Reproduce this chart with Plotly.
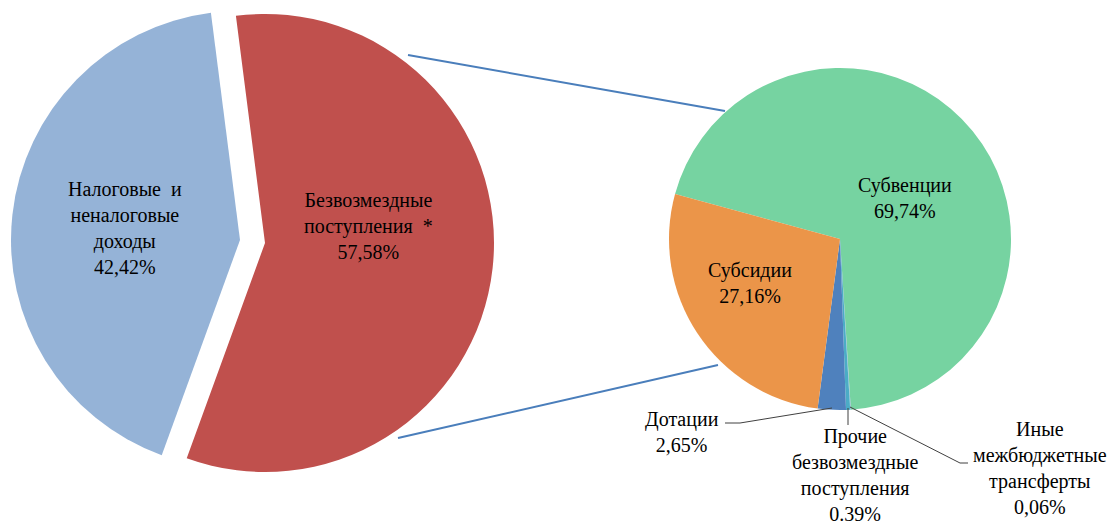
import plotly.graph_objects as go

W, H = 1120, 524

# ---- data ----
main_labels = ["Безвозмездные\nпоступления  *", "Налоговые  и\nненалоговые\nдоходы"]
main_values = [57.58, 42.42]
main_colors = ["#c0504d", "#95b3d7"]

sub_labels = ["Субвенции", "Иные\nмежбюджетные\nтрансферты", "Прочие\nбезвозмездные\nпоступления",
              "Дотации", "Субсидии"]
sub_values = [69.74, 0.06, 0.39, 2.65, 27.16]
sub_colors = ["#76d3a1", "#8fb8d0", "#4bacc6", "#4f81bd", "#eb9549"]
sub_decimal_sep = [",", ",", ".", ",", ","]

FONT = "Liberation Serif"
TRANSPARENT = "rgba(0,0,0,0)"


def px_dom(cx, cy, r):
    return dict(x=[(cx - r) / W, (cx + r) / W], y=[1 - (cy + r) / H, 1 - (cy - r) / H])


def fmt(v, sep=","):
    return f"{v:.2f}".replace(".", sep) + "%"


fig = go.Figure()

# left pie: unexploded slice (blue)
fig.add_trace(go.Pie(
    labels=main_labels, values=main_values, sort=False, direction="clockwise", rotation=-7.3,
    marker=dict(colors=[TRANSPARENT, main_colors[1]], line=dict(width=0)),
    textinfo="none", hoverinfo="skip", domain=px_dom(240, 240, 229)))
# left pie: exploded slice (red)
fig.add_trace(go.Pie(
    labels=main_labels, values=main_values, sort=False, direction="clockwise", rotation=-7.3,
    marker=dict(colors=[main_colors[0], TRANSPARENT], line=dict(width=0)),
    textinfo="none", hoverinfo="skip", domain=px_dom(265, 243, 229)))
# right pie
fig.add_trace(go.Pie(
    labels=sub_labels, values=sub_values, sort=False, direction="clockwise", rotation=-74.7,
    marker=dict(colors=sub_colors, line=dict(width=0)),
    textinfo="none", hoverinfo="skip", domain=px_dom(840, 239, 171)))

# ---- labels ----
main_pos = [(368, 226), (125, 228)]
sub_pos = [(905, 198), (1040, 468), (855, 475), (682, 432), (750, 283)]

annotations = []
for lab, v, (x, y) in zip(main_labels, main_values, main_pos):
    annotations.append(dict(text=lab.replace("\n", "<br>") + "<br>" + fmt(v), x=x / W, y=1 - y / H))
for lab, v, sep, (x, y) in zip(sub_labels, sub_values, sub_decimal_sep, sub_pos):
    annotations.append(dict(text=lab.replace("\n", "<br>") + "<br>" + fmt(v, sep), x=x / W, y=1 - y / H))
for a in annotations:
    a.update(xref="paper", yref="paper", showarrow=False, xanchor="center", yanchor="middle",
             align="center", font=dict(family=FONT, size=20, color="black"))


def path(points):
    d = "M " + " L ".join(f"{x / W},{1 - y / H}" for x, y in points)
    return d


shapes = []
# connectors between pies
for pts in [[(408, 55), (725, 111)], [(398, 438), (718, 365)]]:
    shapes.append(dict(type="path", path=path(pts), xref="paper", yref="paper",
                       line=dict(color="#4a7ebb", width=2)))
# leader lines
for pts in [[(725, 423), (740, 423), (832, 408)],
            [(848, 408), (848, 425)],
            [(850, 407), (960, 463), (968, 463)]]:
    shapes.append(dict(type="path", path=path(pts), xref="paper", yref="paper",
                       line=dict(color="#404040", width=1)))

fig.update_layout(width=W, height=H, margin=dict(l=0, r=0, t=0, b=0),
                  paper_bgcolor="white", plot_bgcolor="white", showlegend=False,
                  annotations=annotations, shapes=shapes)

fig.write_html("out.html", config={"displayModeBar": False},
               post_script="document.body.style.margin='0';")
